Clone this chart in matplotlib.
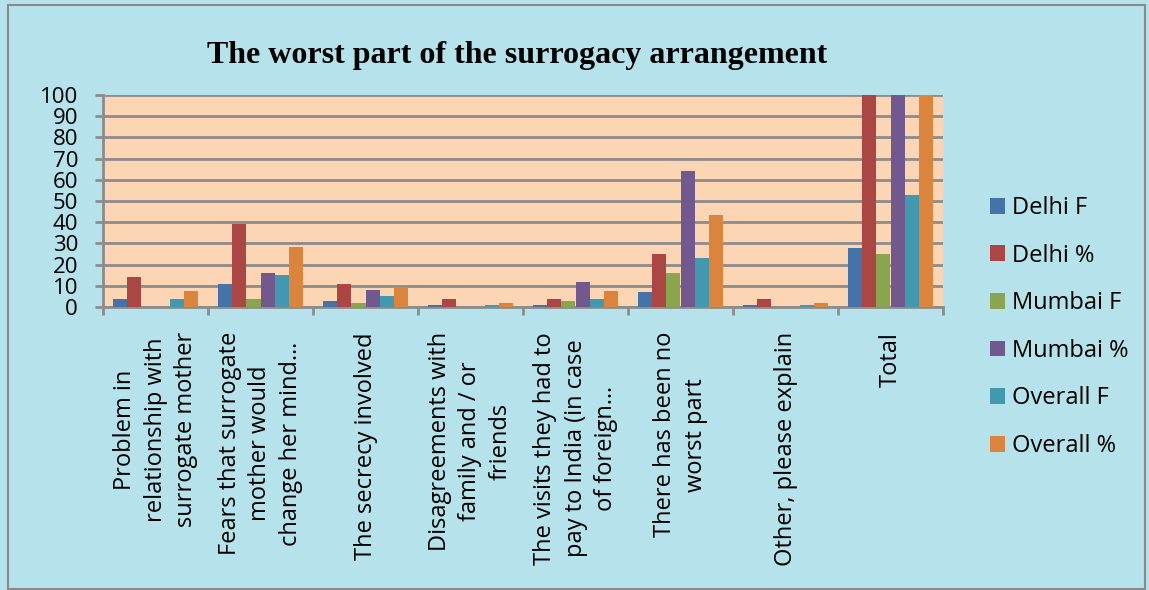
import numpy as np
import matplotlib.pyplot as plt
from matplotlib.patches import Patch, Rectangle

categories = [
    "Problem in\nrelationship with\nsurrogate mother",
    "Fears that surrogate\nmother would\nchange her mind\u2026",
    "The secrecy involved",
    "Disagreements with\nfamily and / or\nfriends",
    "The visits they had to\npay to India (in case\nof foreign\u2026",
    "There has been no\nworst part",
    "Other, please explain",
    "Total",
]

delhi_f = [4, 11, 3, 1, 1, 7, 1, 28]
delhi_pct = [14.3, 39.3, 10.7, 3.6, 3.6, 25.0, 3.6, 100]
mumbai_f = [0, 4, 2, 0, 3, 16, 0, 25]
mumbai_pct = [0, 16, 8, 0, 12, 64, 0, 100]
overall_f = [4, 15, 5, 1, 4, 23, 1, 53]
overall_pct = [7.5, 28.3, 9.4, 1.9, 7.5, 43.4, 1.9, 100]

series = ["Delhi F", "Delhi %", "Mumbai F", "Mumbai %", "Overall F", "Overall %"]
values = [delhi_f, delhi_pct, mumbai_f, mumbai_pct, overall_f, overall_pct]
colors = ["#4572A7", "#AA4643", "#89A54E", "#71588F", "#4198AF", "#DB843D"]

W, H = 1149, 590
fig = plt.figure(figsize=(W / 100, H / 100), dpi=100)
fig.patch.set_facecolor("#b5e2eb")
fig.patches.append(Rectangle((8 / W, 1 - 589 / H), 1137 / W, 584 / H,
                             transform=fig.transFigure, fill=False,
                             edgecolor="#8a8a8a", linewidth=1.5))

ax = fig.add_axes([103 / W, 1 - 307 / H, 840 / W, 212 / H])
ax.set_facecolor("#FCD5B5")

n = len(categories)
x = np.arange(n)
gap = 1.42
bw = 1.0 / (len(series) + gap)
for i, (name, vals, c) in enumerate(zip(series, values, colors)):
    offs = (i - (len(series) - 1) / 2) * bw
    ax.bar(x + offs, vals, width=bw, color=c, label=name, zorder=3)

ax.set_xlim(-0.5, n - 0.5)
ax.set_ylim(0, 100)
ax.set_yticks(np.arange(0, 101, 10))
ax.grid(axis="y", color="#8c8c8c", linewidth=2, zorder=1)
ax.set_axisbelow(True)

font = "Open Sans"
ax.set_xticks(x)
ax.set_xticklabels(categories, rotation=90, ha="center", va="top",
                   multialignment="center", fontsize=17, family=font,
                   linespacing=1.36)
ax.tick_params(axis="x", which="major", length=0, pad=18)
ax.set_xticks(np.arange(-0.5, n, 1.0), minor=True)
ax.tick_params(axis="x", which="minor", length=6, width=2, color="#8c8c8c")
ax.tick_params(axis="y", length=6, width=2, color="#8c8c8c", pad=12,
               labelsize=16)
for lab in ax.get_yticklabels():
    lab.set_family(font)

for s in ["top", "right"]:
    ax.spines[s].set_visible(False)
for s in ["left", "bottom"]:
    ax.spines[s].set_color("#8c8c8c")
    ax.spines[s].set_linewidth(2)

fig.text(517 / W, 1 - 56 / H, "The worst part of the surrogacy arrangement",
         ha="center", va="center", fontsize=23, fontweight="bold",
         family="Liberation Serif")

handles = [Patch(facecolor=c, edgecolor="none") for c in colors]
fig.legend(handles, series, loc="center left",
           bbox_to_anchor=(990 / W, 1 - 327 / H), frameon=False,
           prop={"family": font, "size": 17}, handlelength=0.65,
           handleheight=0.65, handletextpad=0.3, labelspacing=1.0,
           borderpad=0, borderaxespad=0)

fig.savefig("out.png", dpi=100, facecolor=fig.get_facecolor())
